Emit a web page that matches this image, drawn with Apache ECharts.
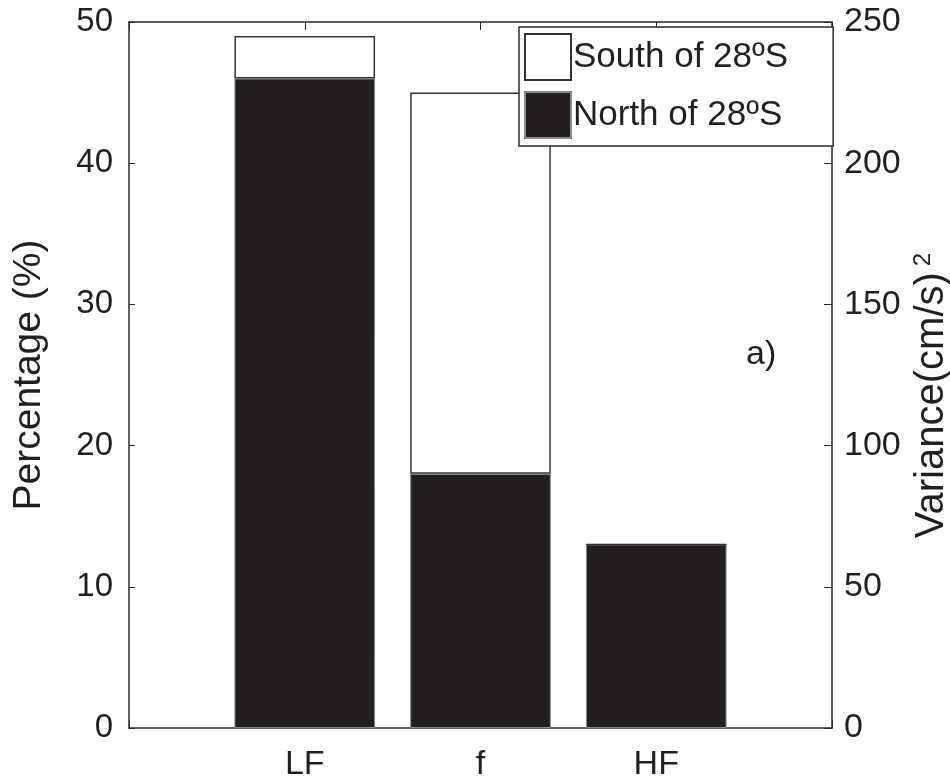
<!DOCTYPE html>
<html>
<head>
<meta charset="utf-8">
<script src="https://cdn.jsdelivr.net/npm/echarts@6/dist/echarts.min.js"></script>
<style>
  html, body { margin: 0; padding: 0; background: #fff; }
  #chart { width: 950px; height: 784px; }
</style>
</head>
<body>
<div id="chart"></div>
<script>
// Frequency bands
const categories = ['LF', 'f', 'HF'];

// Share of variance (%) for each band, split by latitude
const northOf28S = [46, 18, 13];
const southOf28S = [3, 27, 0];

const seriesNames = ['South of 28\u00BAS', 'North of 28\u00BAS'];
const panelLabel = 'a)';

// The axis runs from 0 to 4 with the bands at 1, 2, 3: pad with blank slots at both ends
const axisSlots = [' ', ...categories, '  '];

const FONT = '"Liberation Sans", Arial, Helvetica, sans-serif';
const INK = '#231f20';
const AXIS = '#2b2b2b';

const chart = echarts.init(document.getElementById('chart'), null, { renderer: 'canvas' });

const toPairs = vals => categories.map((c, i) => [c, vals[i]]);

const axisLine = { show: true, onZero: false, lineStyle: { color: AXIS, width: 1.5 } };

const option = {
  backgroundColor: '#ffffff',
  animation: false,
  textStyle: { fontFamily: FONT, color: INK },
  grid: {
    left: 129, right: 118, top: 22, bottom: 56,
    containLabel: false,
    outerBoundsMode: 'none'
  },
  legend: {
    data: seriesNames,
    orient: 'vertical',
    left: 519,
    top: 27,
    icon: 'rect',
    itemWidth: 46,
    itemHeight: 46,
    itemGap: 10,
    padding: [6, 45, 7, 5],
    backgroundColor: '#ffffff',
    borderColor: AXIS,
    borderWidth: 1.5,
    textStyle: { fontFamily: FONT, fontSize: 35, color: INK, padding: [0, 0, 0, -3] },
    selectedMode: false
  },
  xAxis: [
    {
      type: 'category',
      data: axisSlots,
      boundaryGap: false,
      position: 'bottom',
      axisLine: axisLine,
      axisTick: { show: true, inside: true, length: 8, lineStyle: { color: AXIS } },
      splitLine: { show: false },
      axisLabel: { fontFamily: FONT, fontSize: 34, color: INK, margin: 20, interval: 0 }
    },
    {
      type: 'category',
      data: axisSlots,
      boundaryGap: false,
      position: 'top',
      axisLine: axisLine,
      axisTick: { show: true, inside: true, length: 8, lineStyle: { color: AXIS } },
      splitLine: { show: false },
      axisLabel: { show: false }
    }
  ],
  yAxis: [
    {
      type: 'value',
      position: 'left',
      min: 0,
      max: 50,
      interval: 10,
      name: 'Percentage (%)',
      nameLocation: 'middle',
      nameGap: 80,
      nameRotate: 90,
      nameTextStyle: { fontFamily: FONT, fontSize: 39, color: INK },
      axisLine: axisLine,
      axisTick: { show: true, inside: true, length: 6, lineStyle: { color: AXIS } },
      splitLine: { show: false },
      axisLabel: { fontFamily: FONT, fontSize: 33, color: INK, margin: 16 }
    },
    {
      type: 'value',
      position: 'right',
      min: 0,
      max: 250,
      interval: 50,
      name: '{t|Variance(cm/s)}{s|2}',
      nameLocation: 'middle',
      nameGap: 44,
      nameRotate: 90,
      nameTextStyle: {
        fontFamily: FONT,
        color: INK,
        padding: [0, 0, 8, 0],
        rich: {
          t: { fontFamily: FONT, fontSize: 40, color: INK, lineHeight: 40 },
          s: { fontFamily: FONT, fontSize: 24, color: INK, verticalAlign: 'top', padding: [0, 41, 0, 6] }
        }
      },
      axisLine: axisLine,
      axisTick: { show: true, inside: true, length: 8, lineStyle: { color: AXIS } },
      splitLine: { show: false },
      axisLabel: { fontFamily: FONT, fontSize: 34, color: INK, margin: 12 }
    }
  ],
  series: [
    {
      name: seriesNames[1],
      type: 'bar',
      stack: 'share',
      xAxisIndex: 0,
      yAxisIndex: 0,
      barWidth: '80%',
      itemStyle: { color: INK, borderColor: '#8a8a8a', borderWidth: 1 },
      data: toPairs(northOf28S)
    },
    {
      name: seriesNames[0],
      type: 'bar',
      stack: 'share',
      xAxisIndex: 0,
      yAxisIndex: 0,
      barWidth: '80%',
      itemStyle: { color: '#ffffff', borderColor: '#333333', borderWidth: 1.5 },
      data: toPairs(southOf28S)
    }
  ],
  graphic: [
    {
      type: 'text',
      left: 746,
      top: 338,
      style: { text: panelLabel, font: '34px ' + FONT, fill: INK }
    }
  ]
};

chart.setOption(option);
</script>
</body>
</html>
